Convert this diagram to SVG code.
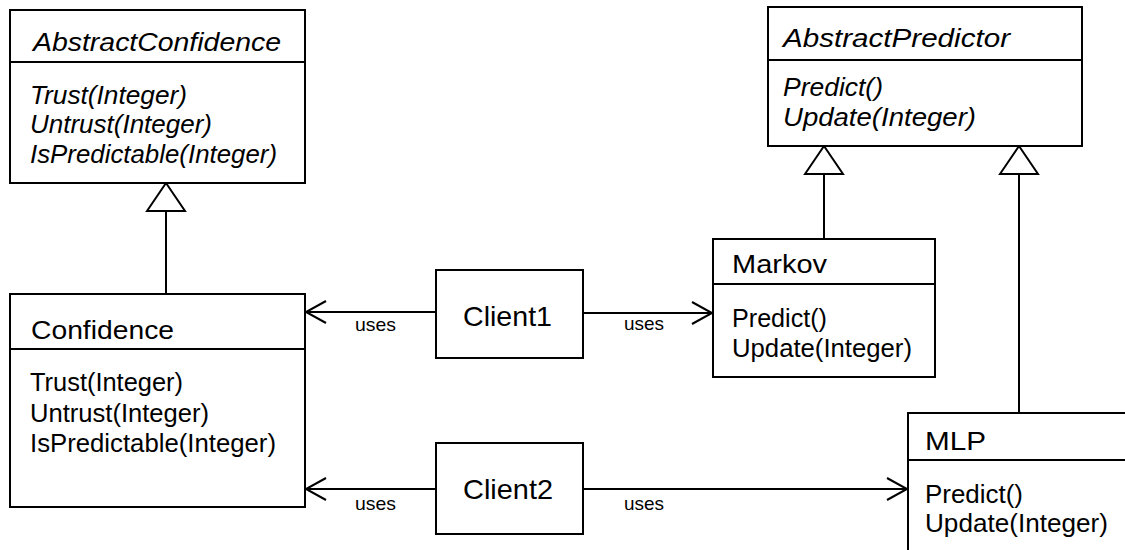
<svg xmlns="http://www.w3.org/2000/svg" width="1125" height="550" viewBox="0 0 1125 550">
<style>
  .box { fill: #fff; stroke: #000; stroke-width: 2; }
  .div { stroke: #000; stroke-width: 2; }
  .t { font-family: "Liberation Sans", Arial, sans-serif; fill: #000; }
  .title { font-size: 26px; }
  .m { font-size: 25px; }
  .it { font-style: italic; }
  .cl { font-size: 28px; }
  .lbl { font-size: 19px; }
  .c { fill: none; stroke: #000; stroke-width: 2; }
</style>
<defs>
  <marker id="open" markerUnits="userSpaceOnUse" markerWidth="24" markerHeight="24" refX="20" refY="11" orient="auto" overflow="visible">
    <path d="M0,0 L20,11 L0,22" fill="none" stroke="#000" stroke-width="2"/>
  </marker>
  <marker id="inh" markerUnits="userSpaceOnUse" markerWidth="32" markerHeight="42" refX="28" refY="19" orient="auto" overflow="visible">
    <path d="M0,0 L28,19 L0,38 Z" fill="#fff" stroke="#000" stroke-width="2"/>
  </marker>
</defs>
<rect width="1125" height="550" fill="#fff"/>

<g id="connectors">
  <line class="c" x1="166" y1="294" x2="166" y2="183" marker-end="url(#inh)"/>
  <line class="c" x1="824" y1="239" x2="824" y2="146" marker-end="url(#inh)"/>
  <line class="c" x1="1019" y1="413" x2="1019" y2="146" marker-end="url(#inh)"/>
  <line class="c" x1="436" y1="312" x2="306" y2="312" marker-end="url(#open)"/>
  <line class="c" x1="436" y1="489" x2="306" y2="489" marker-end="url(#open)"/>
  <line class="c" x1="583" y1="313" x2="712" y2="313" marker-end="url(#open)"/>
  <line class="c" x1="583" y1="489" x2="907" y2="489" marker-end="url(#open)"/>
  <text class="t lbl" x="355" y="331" textLength="41" lengthAdjust="spacingAndGlyphs">uses</text>
  <text class="t lbl" x="355" y="510" textLength="41" lengthAdjust="spacingAndGlyphs">uses</text>
  <text class="t lbl" x="624" y="330" textLength="40" lengthAdjust="spacingAndGlyphs">uses</text>
  <text class="t lbl" x="624" y="510" textLength="40" lengthAdjust="spacingAndGlyphs">uses</text>
</g>

<g id="AbstractConfidence">
  <rect class="box" x="10" y="10" width="295" height="173"/>
  <line class="div" x1="10" y1="62" x2="305" y2="62"/>
  <text class="t title it" x="33" y="51" textLength="248" lengthAdjust="spacingAndGlyphs">AbstractConfidence</text>
  <text class="t m it" x="30" y="104" textLength="157" lengthAdjust="spacingAndGlyphs">Trust(Integer)</text>
  <text class="t m it" x="30" y="133" textLength="182" lengthAdjust="spacingAndGlyphs">Untrust(Integer)</text>
  <text class="t m it" x="30" y="163" textLength="247" lengthAdjust="spacingAndGlyphs">IsPredictable(Integer)</text>
</g>

<g id="Confidence">
  <rect class="box" x="10" y="294" width="295" height="213"/>
  <line class="div" x1="10" y1="349" x2="305" y2="349"/>
  <text class="t title" x="31" y="339" textLength="143" lengthAdjust="spacingAndGlyphs">Confidence</text>
  <text class="t m" x="30" y="391" textLength="153" lengthAdjust="spacingAndGlyphs">Trust(Integer)</text>
  <text class="t m" x="30" y="422" textLength="179" lengthAdjust="spacingAndGlyphs">Untrust(Integer)</text>
  <text class="t m" x="30" y="452" textLength="246" lengthAdjust="spacingAndGlyphs">IsPredictable(Integer)</text>
</g>

<g id="Client1">
  <rect class="box" x="436" y="270" width="147" height="88"/>
  <text class="t cl" x="463" y="326" textLength="89" lengthAdjust="spacingAndGlyphs">Client1</text>
</g>

<g id="Client2">
  <rect class="box" x="436" y="443" width="147" height="91"/>
  <text class="t cl" x="463" y="499" textLength="90" lengthAdjust="spacingAndGlyphs">Client2</text>
</g>

<g id="AbstractPredictor">
  <rect class="box" x="768" y="7" width="314" height="139"/>
  <line class="div" x1="768" y1="60" x2="1082" y2="60"/>
  <text class="t title it" x="783" y="47" textLength="227" lengthAdjust="spacingAndGlyphs">AbstractPredictor</text>
  <text class="t m it" x="783" y="96" textLength="100" lengthAdjust="spacingAndGlyphs">Predict()</text>
  <text class="t m it" x="783" y="126" textLength="193" lengthAdjust="spacingAndGlyphs">Update(Integer)</text>
</g>

<g id="Markov">
  <rect class="box" x="713" y="239" width="222" height="138"/>
  <line class="div" x1="713" y1="284" x2="935" y2="284"/>
  <text class="t title" x="732" y="273" textLength="95" lengthAdjust="spacingAndGlyphs">Markov</text>
  <text class="t m" x="732" y="327" textLength="95" lengthAdjust="spacingAndGlyphs">Predict()</text>
  <text class="t m" x="732" y="357" textLength="180" lengthAdjust="spacingAndGlyphs">Update(Integer)</text>
</g>

<g id="MLP">
  <rect class="box" x="908" y="413" width="240" height="160"/>
  <line class="div" x1="908" y1="460" x2="1148" y2="460"/>
  <text class="t title" x="925" y="450" textLength="61" lengthAdjust="spacingAndGlyphs">MLP</text>
  <text class="t m" x="925" y="503" textLength="98" lengthAdjust="spacingAndGlyphs">Predict()</text>
  <text class="t m" x="925" y="532" textLength="183" lengthAdjust="spacingAndGlyphs">Update(Integer)</text>
</g>
</svg>
